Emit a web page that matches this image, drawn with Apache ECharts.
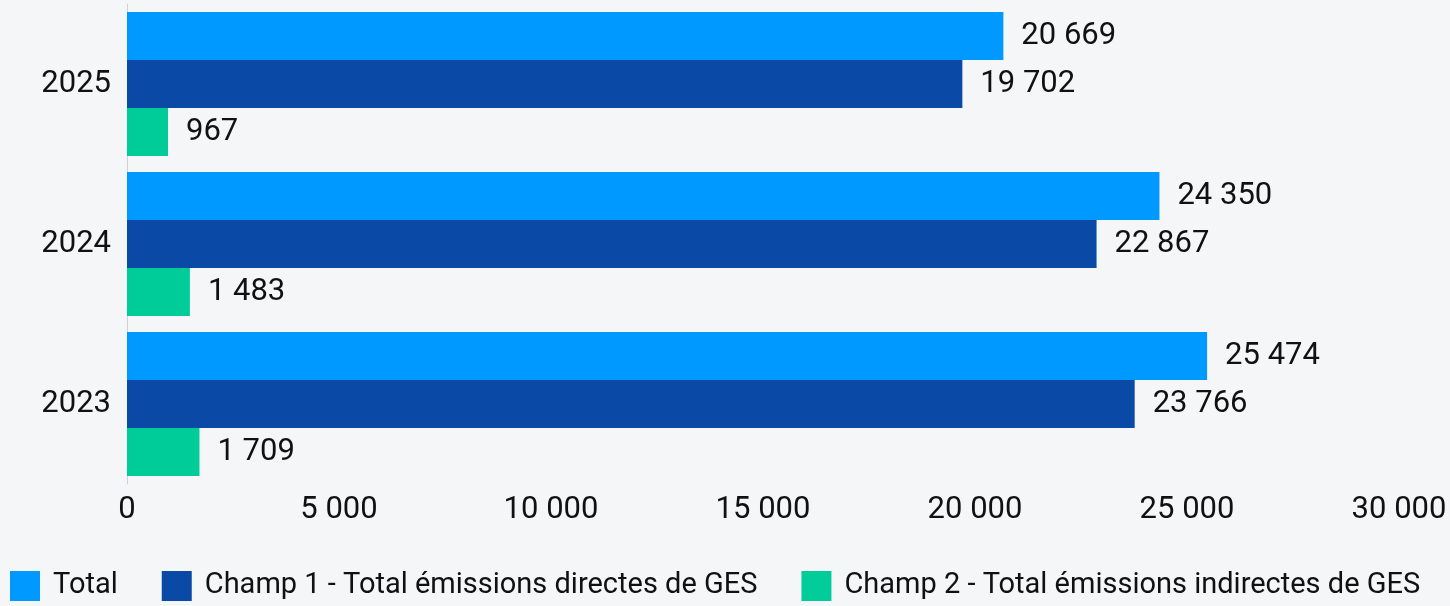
<!DOCTYPE html>
<html>
<head>
<meta charset="utf-8">
<script src="https://cdn.jsdelivr.net/npm/echarts@6/dist/echarts.min.js"></script>
<style>
  html, body { margin: 0; padding: 0; background: #f5f6f8; }
  #chart { width: 1450px; height: 606px; }
</style>
</head>
<body>
<div id="chart"></div>
<script>
  // years, bottom to top
  var years = ['2023', '2024', '2025']
  var total = [25474, 24350, 20669]
  var champ1 = [23766, 22867, 19702]
  var champ2 = [1709, 1483, 967]
  var seriesNames = [
    'Total',
    'Champ 1 - Total émissions directes de GES',
    'Champ 2 - Total émissions indirectes de GES'
  ]
  var colors = ['#0099ff', '#0a49a5', '#00cc99']

  function fmt(v) {
    return String(v).replace(/\B(?=(\d{3})+(?!\d))/g, ' ')
  }

  var font = 'Roboto, "Noto Sans", sans-serif'

  function barSeries(name, data, color) {
    return {
      name: name,
      type: 'bar',
      data: data,
      barGap: 0,
      barCategoryGap: '10%',
      itemStyle: { color: color },
      label: {
        show: true,
        position: 'right',
        distance: 18,
        fontSize: 31,
        fontFamily: font,
        color: '#111',
        formatter: function (p) { return fmt(p.value) }
      }
    }
  }

  var chart = echarts.init(document.getElementById('chart'))
  chart.setOption({
    backgroundColor: '#f5f6f8',
    animation: false,
    textStyle: { fontFamily: font },
    grid: {
      left: 127,
      right: 51,
      top: 4,
      bottom: 122
    },
    legend: {
      data: seriesNames,
      left: 5,
      bottom: 0,
      itemWidth: 30,
      itemHeight: 30,
      itemGap: 44,
      icon: 'rect',
      textStyle: {
        fontSize: 29,
        color: '#111',
        fontFamily: font,
        padding: [0, 0, 0, 8]
      }
    },
    xAxis: {
      type: 'value',
      min: 0,
      max: 30000,
      interval: 5000,
      axisLine: { show: false },
      axisTick: { show: false },
      splitLine: { show: false },
      axisLabel: {
        fontSize: 31,
        color: '#111',
        fontFamily: font,
        margin: 11,
        formatter: fmt
      }
    },
    yAxis: {
      type: 'category',
      data: years,
      axisLine: { show: true, lineStyle: { color: '#cdd3da', width: 1 } },
      axisTick: { show: false },
      axisLabel: {
        fontSize: 31,
        color: '#111',
        fontFamily: font,
        margin: 16
      }
    },
    series: [
      barSeries(seriesNames[0], total, colors[0]),
      barSeries(seriesNames[1], champ1, colors[1]),
      barSeries(seriesNames[2], champ2, colors[2])
    ]
  })
</script>
</body>
</html>
